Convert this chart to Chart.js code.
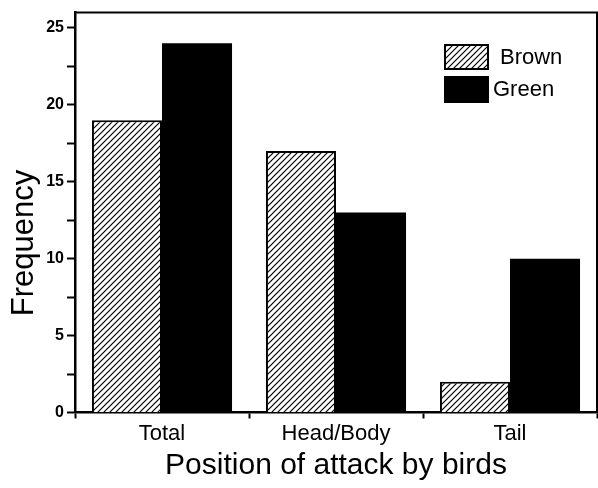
<!DOCTYPE html>
<html><head><meta charset="utf-8">
<script src="https://cdn.jsdelivr.net/npm/chart.js@4/dist/chart.umd.min.js"></script>
<style>html,body{margin:0;padding:0;background:#fff}#wrap{width:598px;height:488px}</style>
</head><body><div id="wrap"><canvas id="c" width="598" height="488"></canvas></div>
<script>
const categories = ['Total', 'Head/Body', 'Tail'];
const seriesNames = ['Brown', 'Green'];
const brownValues = [19, 17, 2];
const greenValues = [24, 13, 10];
const yMajorTicks = [0, 5, 10, 15, 20, 25];
const yMinorTicks = [2.5, 7.5, 12.5, 17.5, 22.5];
const xTitle = 'Position of attack by birds';
const yTitle = 'Frequency';

const FONT = '"Liberation Sans", Arial, Helvetica, sans-serif';
const canvas = document.getElementById('c');
const ctx = canvas.getContext('2d');

function makeHatch() {
  const s = 6;
  const pc = document.createElement('canvas');
  pc.width = s; pc.height = s;
  const g = pc.getContext('2d');
  g.fillStyle = '#fff'; g.fillRect(0, 0, s, s);
  g.strokeStyle = '#000'; g.lineWidth = 1.2;
  g.beginPath();
  g.moveTo(0, s); g.lineTo(s, 0);
  g.moveTo(-1, 1); g.lineTo(1, -1);
  g.moveTo(s - 1, s + 1); g.lineTo(s + 1, s - 1);
  g.stroke();
  return ctx.createPattern(pc, 'repeat');
}
const hatch = makeHatch();

const framePlugin = {
  id: 'frame',
  afterDraw(chart) {
    const {ctx, chartArea: a} = chart;
    ctx.save();
    ctx.strokeStyle = '#000'; ctx.lineWidth = 2;
    ctx.beginPath();
    ctx.moveTo(a.left, a.top); ctx.lineTo(a.right, a.top); ctx.lineTo(a.right, a.bottom);
    ctx.stroke();
    // y title
    ctx.fillStyle = '#000';
    ctx.font = '31px ' + FONT;
    ctx.translate(33, 243);
    ctx.rotate(-Math.PI / 2);
    ctx.textAlign = 'center'; ctx.textBaseline = 'alphabetic';
    ctx.fillText(yTitle, 0, 0);
    ctx.restore();
  }
};

const legendPlugin = {
  id: 'customLegend',
  afterDraw(chart, args, opts) {
    const {ctx} = chart;
    ctx.save();
    chart.data.datasets.forEach((ds, i) => {
      const it = opts.items[i];
      ctx.fillStyle = ds.backgroundColor;
      ctx.fillRect(it.x, it.y, it.w, it.h);
      ctx.strokeStyle = '#000'; ctx.lineWidth = 2;
      ctx.strokeRect(it.x, it.y, it.w, it.h);
      ctx.fillStyle = '#000';
      ctx.font = '22px ' + FONT;
      ctx.textAlign = 'left'; ctx.textBaseline = 'middle';
      ctx.fillText(ds.label, it.tx, it.ty);
    });
    ctx.restore();
  }
};

new Chart(canvas, {
  type: 'bar',
  data: {
    labels: categories,
    datasets: [
      {label: seriesNames[0], data: brownValues, backgroundColor: hatch, borderColor: '#000', borderWidth: 2, borderSkipped: 'bottom'},
      {label: seriesNames[1], data: greenValues, backgroundColor: '#000', borderColor: '#000', borderWidth: 0}
    ]
  },
  plugins: [framePlugin, legendPlugin],
  options: {
    responsive: false,
    devicePixelRatio: 1,
    animation: false,
    layout: {padding: {top: 12.5, right: 1, left: 0, bottom: 0}},
    categoryPercentage: 0.805,
    barPercentage: 1,
    plugins: {
      legend: {display: false},
      tooltip: {enabled: false},
      customLegend: {items: [
        {x: 445, y: 45, w: 43, h: 24, tx: 500, ty: 58},
        {x: 445, y: 77, w: 43, h: 25, tx: 493, ty: 90}
      ]}
    },
    scales: {
      x: {
        ticks: {font: {family: FONT, size: 22}, color: '#000', padding: 2},
        grid: {drawOnChartArea: false, drawTicks: true, tickLength: 6, tickColor: '#000', tickWidth: 2, offset: true},
        border: {color: '#000', width: 2.5},
        title: {display: true, text: xTitle, font: {family: FONT, size: 30}, color: '#000', padding: {top: 0, bottom: 4}},
        afterFit: s => { s.height = 75.5; }
      },
      y: {
        min: 0, max: 26,
        afterBuildTicks: s => {
          s.ticks = yMajorTicks.concat(yMinorTicks).sort((a, b) => a - b).map(v => ({value: v}));
        },
        ticks: {
          autoSkip: false,
          callback: v => yMajorTicks.includes(v) ? String(v) : '',
          font: {family: FONT, size: 16, weight: 'bold'}, color: '#000', padding: 3
        },
        grid: {drawOnChartArea: false, drawTicks: true, tickLength: 8, tickColor: '#000', tickWidth: 2},
        border: {color: '#000', width: 2.5},
        afterFit: s => { s.width = 75; }
      }
    }
  }
});
</script>
</body></html>
